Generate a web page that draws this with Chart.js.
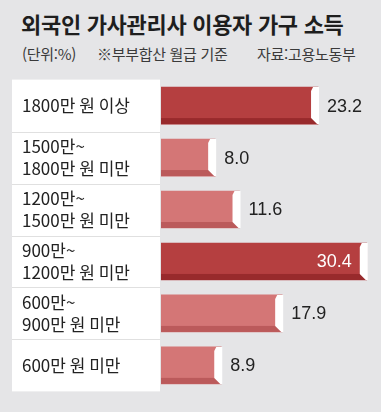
<!DOCTYPE html>
<html lang="ko">
<head>
<meta charset="utf-8">
<title>외국인 가사관리사 이용자 가구 소득</title>
<script src="https://cdn.jsdelivr.net/npm/chart.js@4.4.1/dist/chart.umd.min.js"></script>
<style>
  html, body { margin: 0; padding: 0; background: #fff; }
  #card { position: relative; width: 381px; height: 412px; background: #e5e5e7; overflow: hidden; font-family: "Noto Sans CJK KR", sans-serif; }
  #title { position: absolute; left: 21px; top: 12px; font-size: 22px; font-weight: 700; color: #1e1e1e; letter-spacing: -0.3px; line-height: 1; white-space: nowrap; }
  .sub { position: absolute; top: 46px; font-size: 15px; color: #3a3a3a; line-height: 1; white-space: nowrap; letter-spacing: -0.3px; }
  #chartBox { position: absolute; left: 12px; top: 69px; width: 369px; height: 333px; }
</style>
</head>
<body>
<div id="card">
  <div id="title">외국인 가사관리사 이용자 가구 소득</div>
  <div class="sub" style="left:22px">(단위:%)</div>
  <div class="sub" style="left:97px">※부부합산 월급 기준</div>
  <div class="sub" style="left:257px">자료:고용노동부</div>
  <div id="chartBox"><canvas id="incomeChart"></canvas></div>
</div>
<script>
// income brackets (top to bottom) and share of households, %
var categories = [
    ['1800만 원 이상'],
    ['1500만~', '1800만 원 미만'],
    ['1200만~', '1500만 원 미만'],
    ['900만~', '1200만 원 미만'],
    ['600만~', '900만 원 미만'],
    ['600만 원 미만']
];
var values = [23.2, 8.0, 11.6, 30.4, 17.9, 8.9];

var DARK = '#b53f40', DARK_EDGE = '#982a2c';
var LIGHT = '#d47676', LIGHT_EDGE = '#bb5a5b';

// white label panel + row dividers, bar bottom strip, end cap and values
var panelPlugin = {
    id: 'panel',
    beforeDraw: function(chart) {
        var ctx = chart.ctx, y = chart.scales.y, area = chart.chartArea;
        ctx.save();
        ctx.fillStyle = '#fff';
        ctx.fillRect(0, area.top, area.left - 1, area.bottom - area.top);
        ctx.strokeStyle = '#e0e0e0';
        ctx.lineWidth = 1;
        for (var i = 1; i < categories.length; i++) {
            var p = Math.round((y.getPixelForValue(i - 1) + y.getPixelForValue(i)) / 2) + 0.5;
            ctx.beginPath();
            ctx.moveTo(0, p);
            ctx.lineTo(area.left - 1, p);
            ctx.stroke();
        }
        ctx.restore();
    },
    afterDatasetsDraw: function(chart) {
        var ctx = chart.ctx, meta = chart.getDatasetMeta(0);
        var maxVal = Math.max.apply(null, values);
        meta.data.forEach(function(bar, i) {
            var top = bar.y - bar.height / 2, bottom = bar.y + bar.height / 2;
            var tip = bar.x, left = bar.base;
            var strong = values[i] >= 20;
            ctx.save();
            ctx.fillStyle = strong ? DARK_EDGE : LIGHT_EDGE;
            ctx.fillRect(left, bottom - 6, tip - left, 6);
            ctx.fillStyle = '#fff';
            ctx.beginPath();
            ctx.moveTo(tip - 5, top);
            ctx.lineTo(tip + 1, top);
            ctx.lineTo(tip + 1, bottom);
            ctx.lineTo(tip - 1, bottom);
            ctx.lineTo(tip - 7, bottom - 6);
            ctx.lineTo(tip - 7, top + 4);
            ctx.closePath();
            ctx.fill();
            ctx.font = '18px "Liberation Sans", Arial, sans-serif';
            ctx.textBaseline = 'middle';
            var label = values[i].toFixed(1);
            if (values[i] === maxVal) {
                ctx.fillStyle = '#fff';
                ctx.textAlign = 'right';
                ctx.fillText(label, tip - 15, bar.y + 1);
            } else {
                ctx.fillStyle = '#222';
                ctx.textAlign = 'left';
                ctx.fillText(label, tip + 9, bar.y + 1);
            }
            ctx.restore();
        });
    }
};

var ctx = document.getElementById('incomeChart').getContext('2d');
var incomeChart = new Chart(ctx, {
    type: 'bar',
    data: {
        labels: categories,
        datasets: [{
            data: values,
            backgroundColor: function(c) { return values[c.dataIndex] >= 20 ? DARK : LIGHT; },
            borderWidth: 0,
            barThickness: 37
        }]
    },
    options: {
        indexAxis: 'y',
        responsive: true,
        maintainAspectRatio: false,
        animation: false,
        layout: { padding: { left: 10 } },
        plugins: { legend: { display: false }, tooltip: { enabled: false } },
        scales: {
            x: { display: false, min: 0, max: 32.5 },
            y: {
                grid: { display: false },
                border: { display: false },
                ticks: {
                    crossAlign: 'far',
                    padding: 0,
                    color: '#222',
                    font: { family: '"Liberation Sans Narrow", "Noto Sans CJK KR", sans-serif', size: 17, lineHeight: 1.25 }
                },
                afterFit: function(scale) { scale.width = 139; }
            }
        }
    },
    plugins: [panelPlugin]
});
</script>
</body>
</html>
